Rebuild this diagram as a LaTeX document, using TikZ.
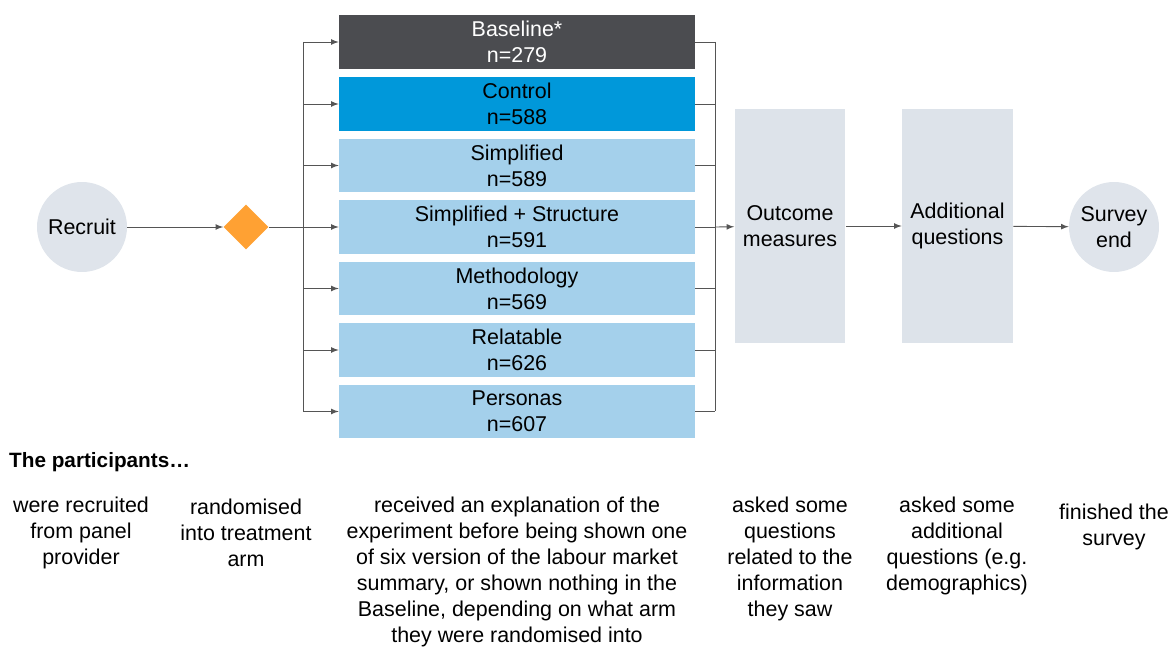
\documentclass[tikz,border=0pt]{standalone}
\usepackage{fontspec}
\setmainfont{Liberation Sans}
\usetikzlibrary{shapes.geometric}
\definecolor{basegrey}{HTML}{4B4C50}
\definecolor{ctrlblue}{HTML}{0098DA}
\definecolor{armblue}{HTML}{A4D0EB}
\definecolor{stagegrey}{HTML}{DDE3EA}
\definecolor{dotgrey}{HTML}{DFE4EB}
\definecolor{randorange}{HTML}{FFA133}
\definecolor{linegrey}{HTML}{555555}
\begin{document}
\begin{tikzpicture}[x=0.02cm, y=-0.02cm,
    every node/.style={font=\fontsize{12.2}{14.7}\selectfont, align=center},
    armbox/.style={fill=armblue, minimum width=7.12cm, minimum height=1.08cm, inner sep=0pt},
    stagebox/.style={fill=stagegrey, minimum width=2.22cm, minimum height=4.68cm, inner sep=0pt},
    endpoint/.style={circle, fill=dotgrey, minimum size=1.8cm, inner sep=0pt},
    link/.style={draw=linegrey, line width=0.5pt},
    arr/.style={link, -latex}]
        \useasboundingbox (0, 0) rectangle (1171, 648);
        % start and randomisation
        \node[endpoint] (recruit) at (82, 227) {Recruit};
        \node[diamond, fill=randorange, minimum width=0.9cm, minimum height=0.9cm, inner sep=0pt] (rand) at (246, 227) {};
        % treatment arms
        \node[armbox, fill=basegrey, text=white] (arm1) at (517, 42) {Baseline*\\n=279};
        \node[armbox, fill=ctrlblue] (arm2) at (517, 104) {Control\\n=588};
        \node[armbox] (arm3) at (517, 165.5) {Simplified\\n=589};
        \node[armbox] (arm4) at (517, 227) {Simplified + Structure\\n=591};
        \node[armbox] (arm5) at (517, 288.5) {Methodology\\n=569};
        \node[armbox] (arm6) at (517, 350) {Relatable\\n=626};
        \node[armbox] (arm7) at (517, 411.5) {Personas\\n=607};
        % later stages
        \node[stagebox] (outcome) at (790, 226) {Outcome\\measures};
        \node[stagebox] (extra) at (957.5, 226) {Additional\\questions};
        \node[endpoint] (finish) at (1114, 227) {Survey\\end};
        \coordinate (split) at (303, 227);
        \coordinate (merge) at (715, 227);
        % connectors
        \draw[arr] (recruit) -- (rand);
        \draw[link] (rand) -- (split);
        \draw[link] (split |- arm1) -- (split |- arm7);
        \draw[link] (merge |- arm1) -- (merge |- arm7);
        \foreach \i in {1,...,7} {
            \draw[arr] (split |- arm\i.west) -- (arm\i.west);
            \draw[link] (arm\i.east) -- (merge |- arm\i.east);
        }
        \draw[arr] (merge) -- (outcome);
        \draw[arr] (outcome) -- (extra);
        \draw[arr] (extra) -- (finish);
        % what the participants did
        \node[anchor=west, font=\fontsize{11.8}{14.7}\selectfont\bfseries] (who) at (3, 462) {The participants\ldots};
        \node (say1) at (81, 533) {were recruited\\from panel\\provider};
        \node (say2) at (246, 533) {randomised\\into treatment\\arm};
        \node (say3) at (517, 572) {received an explanation of the\\experiment before being shown one\\of six version of the labour market\\summary, or shown nothing in the\\Baseline, depending on what arm\\they were randomised into};
        \node (say4) at (790, 559) {asked some\\questions\\related to the\\information\\they saw};
        \node (say5) at (957, 546) {asked some\\additional\\questions (e.g.\\demographics)};
        \node (say6) at (1114, 527) {finished the\\survey};
\end{tikzpicture}
\end{document}
